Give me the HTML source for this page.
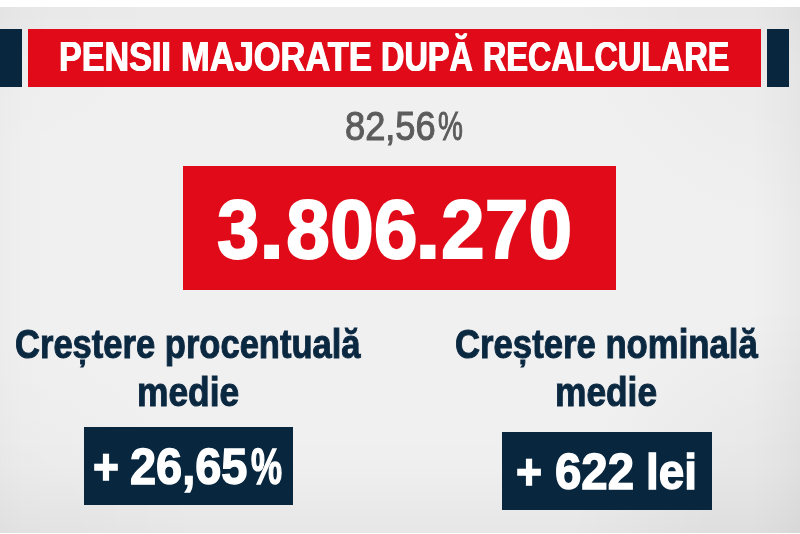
<!DOCTYPE html>
<html lang="ro">
<head>
<meta charset="utf-8">
<title>Pensii majorate după recalculare</title>
<style>
html,body{margin:0;padding:0;}
body{width:800px;height:534px;overflow:hidden;background:#f0f0f0;font-family:"Liberation Sans",Arial,sans-serif;}
#stage{position:relative;width:800px;height:534px;overflow:hidden;
  background:
    radial-gradient(circle at 100% 100%, rgba(0,0,0,.037) 0, rgba(0,0,0,.037) 90px, rgba(0,0,0,0) 230px),
    radial-gradient(circle at 0 100%, rgba(0,0,0,.016) 0, rgba(0,0,0,.016) 80px, rgba(0,0,0,0) 200px),
    radial-gradient(circle at 100% 0, rgba(0,0,0,.017) 0, rgba(0,0,0,.017) 120px, rgba(0,0,0,0) 230px),
    radial-gradient(circle at 0 0, rgba(0,0,0,.017) 0, rgba(0,0,0,0) 160px),
    linear-gradient(90deg, rgba(0,0,0,.017) 0, rgba(0,0,0,.004) 25px, rgba(0,0,0,0) 60px, rgba(0,0,0,0) 750px, rgba(0,0,0,.015) 780px, rgba(0,0,0,.03) 800px),
    linear-gradient(180deg, rgba(0,0,0,.025) 7px, rgba(0,0,0,.019) 18px, rgba(0,0,0,.004) 60px, rgba(0,0,0,0) 100px, rgba(0,0,0,0) 420px, rgba(0,0,0,.004) 465px, rgba(0,0,0,.03) 515px, rgba(0,0,0,.04) 534px),
    #f0f0f0;
}
.topband{position:absolute;left:0;top:0;width:800px;height:7px;background:#fff;}
.botband{position:absolute;left:0;top:532.7px;width:800px;height:1.3px;background:#fdfdfd;}
.navy{background:#08273e;}
.red{background:#e00a18;}
.blk{position:absolute;}
.grp{width:800px;height:1em;}
.t{position:absolute;margin:0;padding:0;white-space:nowrap;line-height:1;transform-origin:0 0;}
</style>
</head>
<body>
<div id="stage">
  <div class="topband"></div>
  <div class="botband"></div>

  <div class="blk navy" style="left:0;top:29.25px;width:22.25px;height:58px;"></div>
  <div class="blk red" style="left:27.5px;top:29.25px;width:733.25px;height:58px;"></div>
  <div class="blk navy" style="left:767px;top:29.25px;width:21.9px;height:58px;"></div>
  <h1 id="t1" class="t grp" style="left:0;top:36.12px;font-size:41.9px;font-weight:bold;color:#fff;text-shadow:0.7px 0 0 #fff,-0.7px 0 0 #fff;"><span class="t" style="left:59.45px;top:0;transform:scaleX(0.8143);">PENSII</span> <span class="t" style="left:181.45px;top:0;transform:scaleX(0.8225);">MAJORATE</span> <span class="t" style="left:381.4px;top:0;transform:scaleX(0.7742);">DUPĂ</span> <span class="t" style="left:482.7px;top:0;transform:scaleX(0.7728);">RECALCULARE</span></h1>

  <div id="t2" class="t grp" style="left:0;top:105.06px;font-size:41.5px;font-weight:normal;color:#5c5c5c;-webkit-text-stroke:1.1px #5c5c5c;"><span class="t" style="left:344.6px;top:0;transform:scaleX(0.8731);">82,56</span><span class="t" style="left:437.5px;top:0;transform:scaleX(0.6744);">%</span></div>

  <div class="blk red" style="left:183px;top:166.4px;width:432.75px;height:123.35px;"></div>
  <div id="t3" class="t grp" style="left:0;top:187.92px;font-size:83.6px;font-weight:bold;color:#fff;-webkit-text-stroke:1.8px #fff;"><span class="t" style="left:217.45px;top:0;transform:scaleX(0.9092);">3</span><span class="t" style="left:259.45px;top:0;transform:scaleX(1.0877);">.</span><span class="t" style="left:285.95px;top:0;transform:scaleX(0.9448);">806</span><span class="t" style="left:415.45px;top:0;transform:scaleX(1.1097);">.</span><span class="t" style="left:440.85px;top:0;transform:scaleX(0.9407);">270</span></div>

  <div id="t4" class="t" style="left:15.0px;top:323.73px;font-size:40.0px;font-weight:bold;color:#0b2841;-webkit-text-stroke:1.0px #0b2841;transform:scaleX(0.8636);">Creștere procentuală</div>
  <div id="t5" class="t" style="left:136.95px;top:372.23px;font-size:40.0px;font-weight:bold;color:#0b2841;-webkit-text-stroke:1.0px #0b2841;transform:scaleX(0.8838);">medie</div>
  <div class="blk navy" style="left:84.1px;top:427.15px;width:209px;height:77.6px;"></div>
  <div id="t6" class="t grp" style="left:0;top:442.24px;font-size:50.5px;font-weight:bold;color:#fff;-webkit-text-stroke:1.4px #fff;"><span class="t" style="left:92.5px;top:0;transform:scaleX(0.8804);">+</span> <span class="t" style="left:130.3px;top:0;transform:scaleX(0.9295);">26,65</span><span class="t" style="left:251.35px;top:0;transform:scaleX(0.6915);">%</span></div>

  <div id="t7" class="t" style="left:454.9px;top:323.73px;font-size:40.0px;font-weight:bold;color:#0b2841;-webkit-text-stroke:1.0px #0b2841;transform:scaleX(0.8672);">Creștere nominală</div>
  <div id="t8" class="t" style="left:555.25px;top:372.23px;font-size:40.0px;font-weight:bold;color:#0b2841;-webkit-text-stroke:1.0px #0b2841;transform:scaleX(0.8829);">medie</div>
  <div class="blk navy" style="left:502px;top:432.25px;width:210px;height:77.5px;"></div>
  <div id="t9" class="t grp" style="left:0;top:447.34px;font-size:50.5px;font-weight:bold;color:#fff;-webkit-text-stroke:1.4px #fff;"><span class="t" style="left:516.45px;top:0;transform:scaleX(0.8841);">+</span> <span class="t" style="left:555.0px;top:0;transform:scaleX(0.9384);">622</span> <span class="t" style="left:645.7px;top:0;transform:scaleX(0.9079);">lei</span></div>
</div>
</body>
</html>
